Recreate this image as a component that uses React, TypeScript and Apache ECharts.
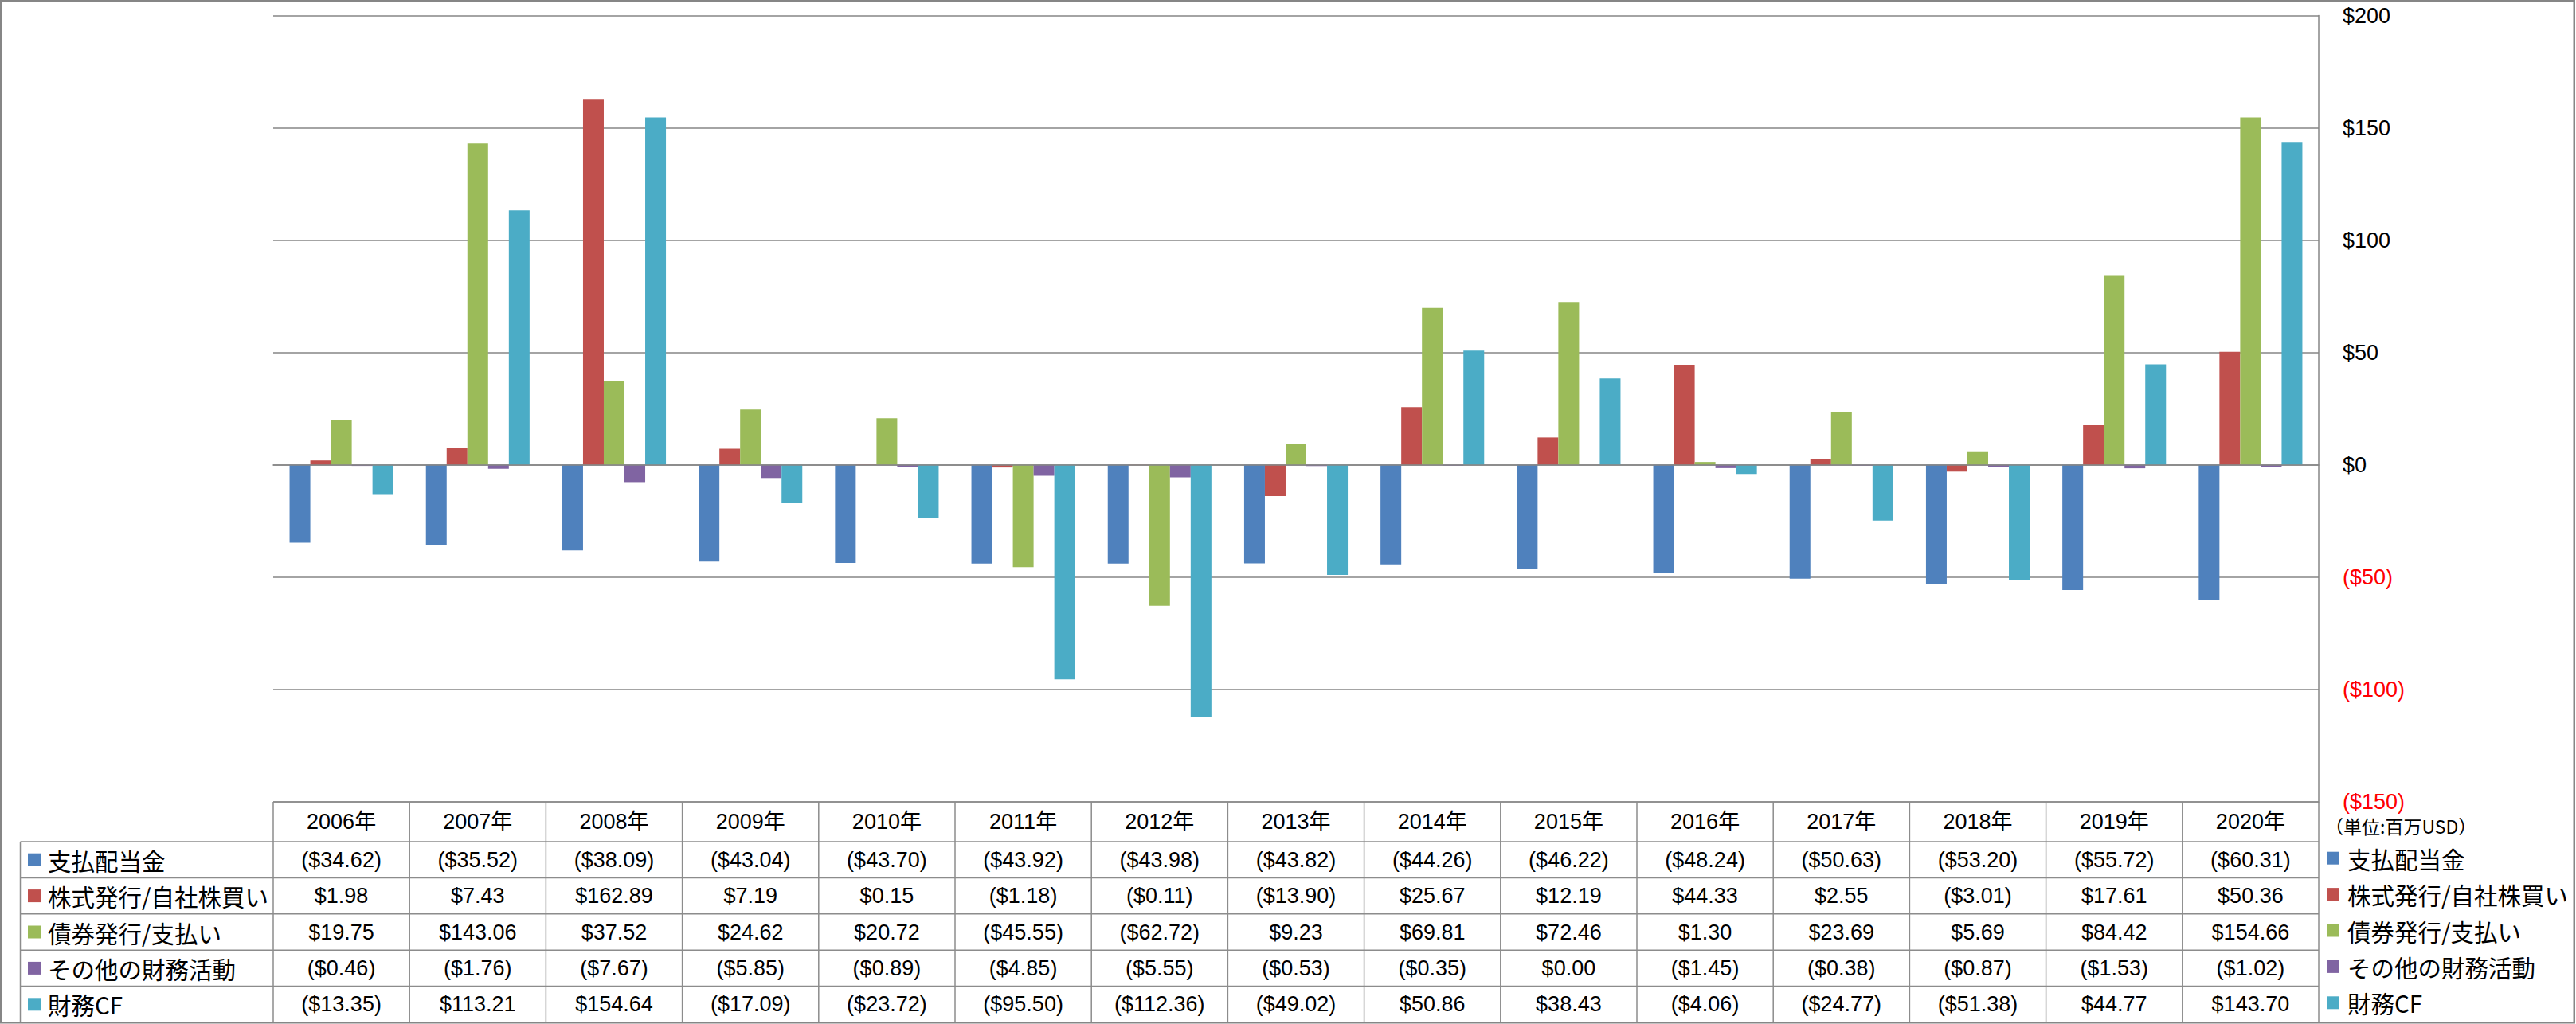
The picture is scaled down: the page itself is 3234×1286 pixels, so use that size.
import React, { useEffect, useRef } from "react";
import * as echarts from "echarts";

const categories = ["2006年","2007年","2008年","2009年","2010年","2011年","2012年","2013年","2014年","2015年","2016年","2017年","2018年","2019年","2020年"];
const seriesNames = ["支払配当金","株式発行/自社株買い","債券発行/支払い","その他の財務活動","財務CF"];
const seriesColors = ["#4F81BD","#C0504D","#9BBB59","#8064A2","#4BACC6"];
const dividends = [-34.62,-35.52,-38.09,-43.04,-43.70,-43.92,-43.98,-43.82,-44.26,-46.22,-48.24,-50.63,-53.20,-55.72,-60.31];
const stock = [1.98,7.43,162.89,7.19,0.15,-1.18,-0.11,-13.90,25.67,12.19,44.33,2.55,-3.01,17.61,50.36];
const bonds = [19.75,143.06,37.52,24.62,20.72,-45.55,-62.72,9.23,69.81,72.46,1.30,23.69,5.69,84.42,154.66];
const other = [-0.46,-1.76,-7.67,-5.85,-0.89,-4.85,-5.55,-0.53,-0.35,0.00,-1.45,-0.38,-0.87,-1.53,-1.02];
const financingCF = [-13.35,113.21,154.64,-17.09,-23.72,-95.50,-112.36,-49.02,50.86,38.43,-4.06,-24.77,-51.38,44.77,143.70];
const seriesData = [dividends, stock, bonds, other, financingCF];
const unitLabel = "（単位:百万USD）";

const W = 3234;
const H = 1286;
const FONT = "'Liberation Sans', 'Noto Sans CJK JP', sans-serif";
const JFONT = "'Noto Sans CJK JP', 'Liberation Sans', sans-serif";
const LINE = "#8C8C8C";

const fmt = (v: number) => (v < 0 ? `($${Math.abs(v).toFixed(2)})` : `$${v.toFixed(2)}`);

export default function App() {
  const ref = useRef<HTMLDivElement>(null);
  useEffect(() => {
    if (!ref.current) return;
    const chart = echarts.init(ref.current, undefined, { renderer: "svg" });
    chart.setOption({
      animation: false,
      backgroundColor: "#ffffff",
      grid: { left: 343, right: W - 2911, top: 19.5, bottom: H - 1007 },
      xAxis: {
        type: "category",
        data: categories,
        axisLine: { show: true, onZero: true, lineStyle: { color: "#868686", width: 1.5 } },
        axisTick: { show: false },
        axisLabel: { show: false },
        splitLine: { show: false },
        z: 5,
      },
      yAxis: {
        type: "value",
        position: "right",
        min: -150,
        max: 200,
        interval: 50,
        axisLine: { show: true, lineStyle: { color: "#868686", width: 1.5 } },
        axisTick: { show: false },
        splitLine: { show: true, lineStyle: { color: "#868686", width: 1.5 } },
        axisLabel: {
          margin: 30,
          fontSize: 27,
          fontFamily: FONT,
          formatter: (v: number) => (v < 0 ? `{neg|($${Math.abs(v)})}` : `{pos|$${v}}`),
          rich: {
            neg: { color: "#FF0000", fontSize: 27, fontFamily: FONT },
            pos: { color: "#000000", fontSize: 27, fontFamily: FONT },
          },
        },
      },
      series: seriesNames.map((name, i) => ({
        name,
        type: "bar",
        data: seriesData[i],
        itemStyle: { color: seriesColors[i] },
        barGap: "0%",
        barCategoryGap: "24%",
      })),
    });

    const c0 = chart.convertToPixel({ xAxisIndex: 0 }, 0) as number;
    const c1 = chart.convertToPixel({ xAxisIndex: 0 }, 1) as number;
    const colW = c1 - c0;
    const left = c0 - colW / 2;
    const right = left + colW * categories.length;
    const tableTop = chart.convertToPixel({ yAxisIndex: 0 }, -150) as number;
    const headerBottom = 1057;
    const rowH = (1284 - headerBottom) / seriesNames.length;
    const tableLeft = 25.5;
    const els: any[] = [];
    const line = (x1: number, y1: number, x2: number, y2: number) =>
      els.push({ type: "line", shape: { x1, y1, x2, y2 }, style: { stroke: LINE, lineWidth: 1.5 }, silent: true });

    line(left, tableTop, right, tableTop);
    for (let r = 0; r <= seriesNames.length; r++) {
      const y = headerBottom + r * rowH;
      line(tableLeft, y, right, y);
    }
    line(tableLeft, headerBottom, tableLeft, 1284);
    for (let k = 0; k <= categories.length; k++) {
      const x = left + k * colW;
      line(x, tableTop, x, 1284);
    }
    categories.forEach((cat, i) => {
      const cx = chart.convertToPixel({ xAxisIndex: 0 }, i) as number;
      els.push({
        type: "text",
        x: cx,
        y: (tableTop + headerBottom) / 2,
        style: { text: cat, font: `27px ${FONT}`, fill: "#000", align: "center", verticalAlign: "middle" },
        silent: true,
      });
    });
    seriesNames.forEach((name, r) => {
      const cy = headerBottom + (r + 0.5) * rowH;
      els.push({ type: "rect", shape: { x: 35, y: cy - 8, width: 16, height: 16 }, style: { fill: seriesColors[r] }, silent: true });
      els.push({
        type: "text", x: 60, y: cy,
        style: { text: name, font: `29.5px ${JFONT}`, fill: "#000", align: "left", verticalAlign: "middle" },
        silent: true,
      });
      seriesData[r].forEach((v, i) => {
        const cx = chart.convertToPixel({ xAxisIndex: 0 }, i) as number;
        els.push({
          type: "text", x: cx, y: cy,
          style: { text: fmt(v), font: `27px ${FONT}`, fill: "#000", align: "center", verticalAlign: "middle" },
          silent: true,
        });
      });
      els.push({ type: "rect", shape: { x: 2921, y: cy - 10, width: 16, height: 16 }, style: { fill: seriesColors[r] }, silent: true });
      els.push({
        type: "text", x: 2947, y: cy - 2,
        style: { text: name, font: `29.5px ${JFONT}`, fill: "#000", align: "left", verticalAlign: "middle" },
        silent: true,
      });
    });
    els.push({
      type: "text", x: 2919, y: 1037,
      style: { text: unitLabel, font: `23px ${JFONT}`, fill: "#000", align: "left", verticalAlign: "middle" },
      silent: true,
    });
    els.push({ type: "rect", shape: { x: 1.25, y: 1.25, width: W - 3.5, height: 1283 }, style: { fill: "none", stroke: "#868686", lineWidth: 2.5 }, silent: true, z: 100 });

    chart.setOption({ graphic: { elements: els } });
    return () => chart.dispose();
  }, []);
  return <div ref={ref} style={{ position: "fixed", left: 0, top: 0, width: W, height: H }} />;
}
